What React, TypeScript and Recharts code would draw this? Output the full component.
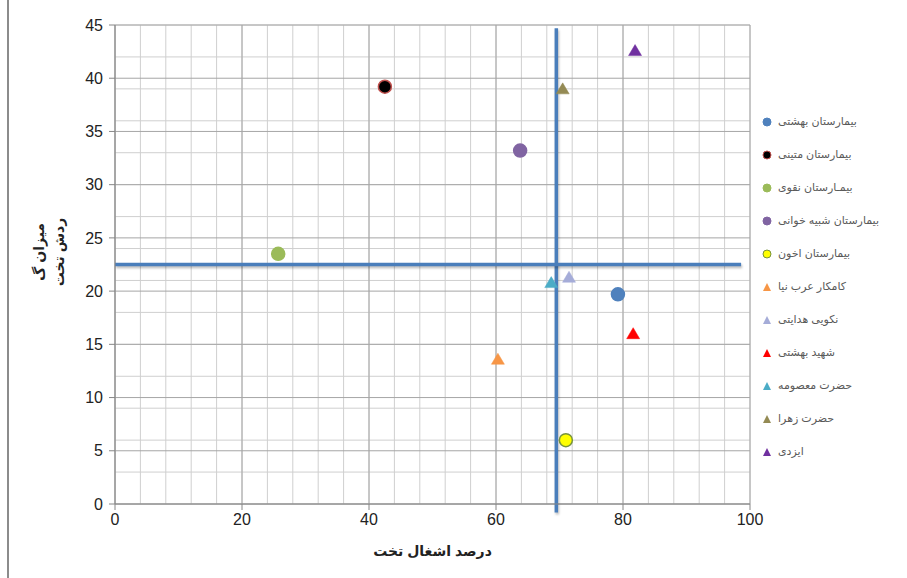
import React from 'react';
import {
  ScatterChart,
  Scatter,
  XAxis,
  YAxis,
  CartesianGrid,
  ReferenceLine,
  Label,
} from 'recharts';

// hospitals: name, bed occupancy %, bed turnover
const names = [
  'بیمارستان بهشتی',
  'بیمارستان متینی',
  'بیمـارستان نقوی',
  'بیمارستان شبیه خوانی',
  'بیمارستان اخون',
  'کامکار عرب نیا',
  'نکویی هدایتی',
  'شهید بهشتی',
  'حضرت معصومه',
  'حضرت زهرا',
  'ایزدی',
];
const occupancy = [79.2, 42.5, 25.7, 63.8, 71.0, 60.3, 71.5, 81.6, 68.7, 70.5, 81.9];
const turnover = [19.7, 39.2, 23.5, 33.2, 6.0, 13.6, 21.3, 16.0, 20.8, 39.0, 42.6];
const shapes = ['circle', 'circle', 'circle', 'circle', 'circle', 'triangle', 'triangle', 'triangle', 'triangle', 'triangle', 'triangle'];
const fills = ['#4F81BD', '#000000', '#9BBB59', '#8064A2', '#FFFF00', '#F79646', '#A5ACD8', '#FF0000', '#4BACC6', '#948A54', '#7030A0'];
const strokes = ['#4F81BD', '#C0504D', '#9BBB59', '#8064A2', '#77933C', '#F79646', '#A5ACD8', '#FF0000', '#4BACC6', '#948A54', '#7030A0'];

const xTicks = [0, 20, 40, 60, 80, 100];
const yTicks = [0, 5, 10, 15, 20, 25, 30, 35, 40, 45];
const xMinor = Array.from({ length: 26 }, (_, i) => i * 4);
const yMinor = Array.from({ length: 46 }, (_, i) => i);

// quadrant divider lines
const meanOccupancy = 69.5;
const meanTurnover = 22.5;

const FONT = '"Liberation Sans", Arial, "DejaVu Sans", sans-serif';

const makeShape = (i: number) => (props: any) => {
  const { cx, cy } = props;
  if (shapes[i] === 'circle') {
    return <circle cx={cx} cy={cy} r={6.5} fill={fills[i]} stroke={strokes[i]} strokeWidth={1.5} />;
  }
  return (
    <path
      d={`M${cx},${cy - 6} L${cx + 6.5},${cy + 5} L${cx - 6.5},${cy + 5} Z`}
      fill={fills[i]}
      stroke={strokes[i]}
      strokeWidth={0.5}
    />
  );
};

const LegendMarker = ({ i }: { i: number }) => (
  <svg width={10} height={10} style={{ display: 'block' }}>
    {shapes[i] === 'circle' ? (
      <circle cx={5} cy={5} r={4} fill={fills[i]} stroke={strokes[i]} strokeWidth={1} />
    ) : (
      <path d="M5,1 L9,9 L1,9 Z" fill={fills[i]} />
    )}
  </svg>
);

export default function App() {
  return (
    <div style={{ position: 'absolute', left: 0, top: 0, width: 907, height: 578, background: '#fff', fontFamily: FONT }}>
      <div style={{ position: 'absolute', left: 7, top: 0, width: 2, height: 578, background: '#8c8c8c' }} />
      <ScatterChart width={907} height={578} margin={{ top: 25, right: 157, bottom: 0, left: 0 }}>
        <CartesianGrid
          stroke="#cfcfcf"
          strokeWidth={1}
          horizontalValues={yMinor}
          verticalValues={xMinor}
        />
        <CartesianGrid stroke="#a6a6a6" strokeWidth={1} />
        <XAxis
          type="number"
          dataKey="x"
          domain={[0, 100]}
          ticks={xTicks}
          height={74}
          stroke="#868686"
          tickSize={6}
          tick={{ fontSize: 16, fill: '#222', fontFamily: FONT }}
          tickMargin={4}
        >
          <Label
            value="درصد اشغال تخت"
            position="insideBottom"
            offset={22}
            style={{ fontSize: 14, fontWeight: 'bold', fill: '#222', fontFamily: FONT }}
          />
        </XAxis>
        <YAxis
          type="number"
          dataKey="y"
          domain={[0, 45]}
          ticks={yTicks}
          width={115}
          stroke="#868686"
          tickSize={6}
          tick={{ fontSize: 16, fill: '#222', fontFamily: FONT }}
          tickMargin={6}
        />
        <ReferenceLine
          segment={[{ x: meanOccupancy, y: -0.8 }, { x: meanOccupancy, y: 44.7 }]}
          stroke="#4A7EBB"
          strokeWidth={3.5}
          ifOverflow="visible"
          style={{ filter: 'drop-shadow(1px 2px 1px rgba(0,0,0,0.25))' }}
        />
        <ReferenceLine
          segment={[{ x: 0, y: meanTurnover }, { x: 98.6, y: meanTurnover }]}
          stroke="#4A7EBB"
          strokeWidth={3.5}
          ifOverflow="visible"
          style={{ filter: 'drop-shadow(1px 2px 1px rgba(0,0,0,0.25))' }}
        />
        {names.map((n, i) => (
          <Scatter
            key={n}
            name={n}
            data={[{ x: occupancy[i], y: turnover[i] }]}
            shape={makeShape(i)}
            isAnimationActive={false}
          />
        ))}
      </ScatterChart>
      <div
        style={{
          position: 'absolute',
          left: 49,
          top: 262,
          transform: 'translate(-50%, -50%) rotate(-90deg)',
          fontSize: 14,
          fontWeight: 'bold',
          color: '#222',
          textAlign: 'center',
          lineHeight: '20px',
          whiteSpace: 'nowrap',
          direction: 'rtl',
          paddingLeft: 20,
        }}
      >
        <div>میزان گ</div>
        <div>ردش تخت</div>
      </div>
      <div style={{ position: 'absolute', left: 762, top: 105 }}>
        {names.map((n, i) => (
          <div key={n} style={{ display: 'flex', alignItems: 'center', height: 33, gap: 6 }}>
            <LegendMarker i={i} />
            <span style={{ fontSize: 11, color: '#595959', direction: 'rtl' }}>{n}</span>
          </div>
        ))}
      </div>
    </div>
  );
}
